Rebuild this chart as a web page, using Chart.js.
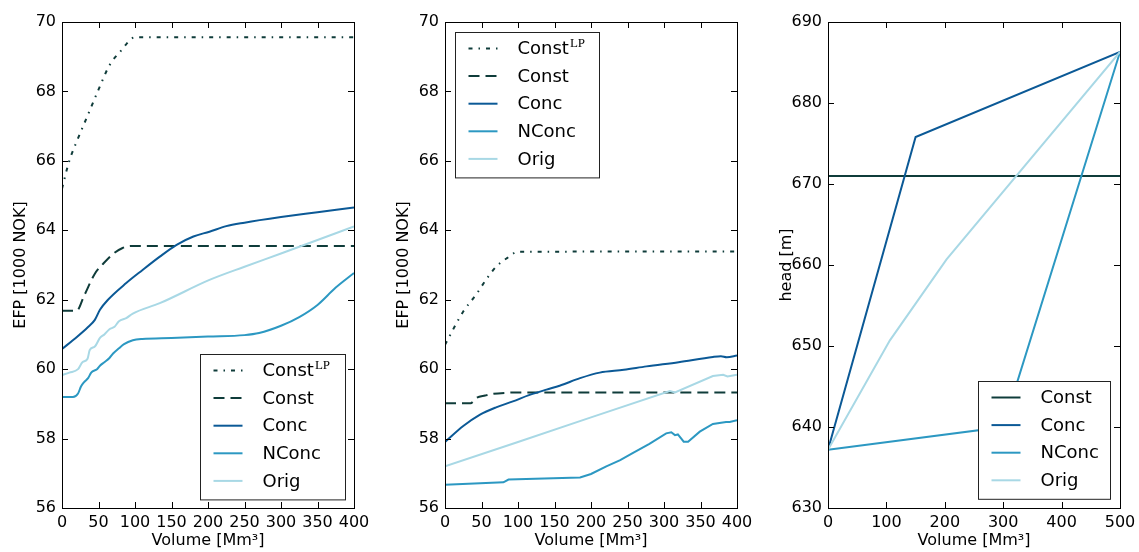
<!DOCTYPE html>
<html>
<head>
<meta charset="utf-8">
<script src="https://cdn.jsdelivr.net/npm/chart.js@4.4.1/dist/chart.umd.min.js"></script>
<style>
  body { margin: 0; background: #fff; overflow: hidden; }
  .panel { position: absolute; top: 0; width: 370px; height: 552px; }
</style>
</head>
<body>
<div class="panel" style="left:0"><canvas id="c1"></canvas></div>
<div class="panel" style="left:383px"><canvas id="c2"></canvas></div>
<div class="panel" style="left:766px"><canvas id="c3"></canvas></div>
<script>
// left panel: EFP vs volume
const constLpX1 = [0, 10, 20, 35, 50, 65, 80, 100, 400];
const constLpY1 = [65.2, 66.0, 66.55, 67.3, 68.05, 68.75, 69.15, 69.56, 69.56];
const constX1 = [0, 20, 30, 45, 57, 70, 83, 95, 400];
const constY1 = [61.68, 61.68, 62.1, 62.75, 63.05, 63.32, 63.49, 63.55, 63.55];
const concX1 = [0, 20, 35, 45, 52, 63, 88, 110, 134, 157, 180, 202, 225, 250, 300, 350, 400];
const concY1 = [60.58, 60.92, 61.2, 61.42, 61.71, 62.0, 62.48, 62.85, 63.24, 63.58, 63.82, 63.96, 64.12, 64.22, 64.38, 64.52, 64.66];
const nconcX1 = [0, 15, 22, 26, 30, 36, 40, 48, 52, 58, 65, 70, 78, 85, 97, 110, 150, 200, 250, 270, 300, 325, 350, 375, 400];
const nconcY1 = [59.2, 59.2, 59.3, 59.5, 59.62, 59.75, 59.9, 60.0, 60.1, 60.2, 60.32, 60.45, 60.6, 60.72, 60.83, 60.87, 60.9, 60.94, 60.98, 61.04, 61.25, 61.5, 61.85, 62.35, 62.77];
const origX1 = [0, 10, 22, 28, 35, 38, 45, 52, 58, 65, 72, 78, 88, 97, 134, 202, 250, 300, 350, 400];
const origY1 = [59.83, 59.9, 60.0, 60.2, 60.3, 60.55, 60.65, 60.9, 61.0, 61.15, 61.22, 61.38, 61.47, 61.6, 61.9, 62.57, 62.95, 63.33, 63.72, 64.11];

// middle panel
const constLpX2 = [0, 10, 25, 43, 57, 70, 85, 100, 400];
const constLpY2 = [60.7, 61.1, 61.66, 62.16, 62.6, 62.95, 63.2, 63.38, 63.39];
const constX2 = [0, 35, 43, 55, 66, 85, 103, 400];
const constY2 = [59.02, 59.02, 59.17, 59.24, 59.29, 59.32, 59.33, 59.33];
const concX2 = [0, 25, 48, 70, 93, 115, 139, 157, 185, 212, 245, 276, 320, 367, 378, 386, 400];
const concY2 = [57.9, 58.36, 58.69, 58.9, 59.07, 59.25, 59.41, 59.52, 59.74, 59.9, 59.98, 60.08, 60.2, 60.35, 60.37, 60.34, 60.39];
const nconcX2 = [0, 80, 87, 185, 200, 221, 240, 257, 280, 303, 310, 315, 319, 327, 333, 349, 367, 385, 390, 400];
const nconcY2 = [56.67, 56.74, 56.82, 56.88, 56.98, 57.2, 57.38, 57.58, 57.85, 58.15, 58.18, 58.1, 58.12, 57.91, 57.91, 58.2, 58.42, 58.48, 58.48, 58.53];
const origX2 = [0, 100, 200, 308, 315, 367, 381, 387, 400];
const origY2 = [57.2, 57.9, 58.61, 59.37, 59.33, 59.8, 59.84, 59.79, 59.84];

// right panel: head vs volume
const constX3 = [0, 500];
const constY3 = [671, 671];
const concX3 = [0, 150, 500];
const concY3 = [637.2, 675.8, 686.3];
const nconcX3 = [0, 300, 500];
const nconcY3 = [637.2, 640.0, 686.3];
const origX3 = [0, 106, 203, 500];
const origY3 = [637.2, 650.7, 660.7, 686.3];

const colConst = '#0f3c3a';
const colConc = '#0b5996';
const colNConc = '#2c98c2';
const colOrig = '#a8d8e5';

const FONT = 'DejaVu Sans';

function pts(xs, ys) {
  return xs.map((x, i) => ({x: x, y: ys[i]}));
}

function line(label, xs, ys, color, dash, idx, smooth) {
  return {
    label: label,
    data: pts(xs, ys),
    borderColor: color,
    backgroundColor: color,
    borderWidth: 2,
    borderDash: dash || [],
    pointRadius: 0,
    fill: false,
    order: -idx,
    cubicInterpolationMode: smooth ? 'monotone' : 'default',
    tension: 0
  };
}

// matplotlib-style box with inward ticks on all four sides
const frameTicks = {
  id: 'frameTicks',
  afterDatasetsDraw(chart) {
    const {ctx, chartArea: a, scales: {x, y}} = chart;
    ctx.save();
    ctx.strokeStyle = '#000';
    ctx.lineWidth = 1;
    ctx.beginPath();
    x.ticks.forEach(t => {
      const px = Math.round(x.getPixelForValue(t.value)) + 0.5;
      ctx.moveTo(px, a.top); ctx.lineTo(px, a.top + 6);
      ctx.moveTo(px, a.bottom); ctx.lineTo(px, a.bottom - 6);
    });
    y.ticks.forEach(t => {
      const py = Math.round(y.getPixelForValue(t.value)) + 0.5;
      ctx.moveTo(a.left, py); ctx.lineTo(a.left + 6, py);
      ctx.moveTo(a.right, py); ctx.lineTo(a.right - 6, py);
    });
    ctx.stroke();
    ctx.strokeRect(Math.round(a.left) + 0.5, Math.round(a.top) + 0.5,
      Math.round(a.right - a.left), Math.round(a.bottom - a.top));
    ctx.restore();
  }
};

// legend box drawn inside the axes
const boxLegend = {
  id: 'boxLegend',
  afterDraw(chart, args, opts) {
    const {ctx, chartArea: a} = chart;
    const sets = chart.data.datasets;
    const rowH = 27.6;
    const h = 35 + (sets.length - 1) * rowH;
    const w = opts.width;
    let left, top;
    if (opts.corner === 'tl') { left = a.left + 10; top = a.top + 10; }
    else { left = a.right - opts.right - w; top = a.bottom - 9 - h; }
    left = Math.round(left) + 0.5; top = Math.round(top) + 0.5;
    ctx.save();
    ctx.fillStyle = '#fff';
    ctx.fillRect(left, top, w, h);
    ctx.strokeStyle = '#222';
    ctx.lineWidth = 1;
    ctx.strokeRect(left, top, w, h);
    sets.forEach((ds, i) => {
      const cy = top + 16 + i * rowH;
      ctx.strokeStyle = ds.borderColor;
      ctx.lineWidth = ds.borderWidth;
      ctx.setLineDash(ds.borderDash);
      ctx.beginPath();
      ctx.moveTo(left + 13, cy);
      ctx.lineTo(left + 42, cy);
      ctx.stroke();
      ctx.setLineDash([]);
      ctx.fillStyle = '#000';
      ctx.textBaseline = 'middle';
      ctx.textAlign = 'left';
      const parts = ds.label.split('^');
      ctx.font = '18px "' + FONT + '"';
      ctx.fillText(parts[0], left + 62, cy + 1);
      if (parts[1]) {
        const tw = ctx.measureText(parts[0]).width;
        ctx.font = '13px "Liberation Serif"';
        ctx.fillText(parts[1], left + 62 + tw + 1, cy - 5);
      }
    });
    ctx.restore();
  }
};

function makeChart(id, datasets, xMax, xStep, yMin, yMax, yStep, yTitle, legendOpts) {
  return new Chart(document.getElementById(id), {
    type: 'line',
    data: {datasets: datasets},
    plugins: [frameTicks, boxLegend],
    options: {
      responsive: true,
      maintainAspectRatio: false,
      animation: false,
      layout: {padding: {left: 0, right: 16, top: 22, bottom: 0}},
      plugins: {
        legend: {display: false},
        tooltip: {enabled: false},
        boxLegend: legendOpts
      },
      scales: {
        x: {
          type: 'linear',
          min: 0,
          max: xMax,
          grid: {display: false, drawTicks: false},
          border: {display: false},
          ticks: {stepSize: xStep, color: '#000', padding: 5, maxRotation: 0, font: {family: FONT, size: 16}},
          title: {display: true, text: 'Volume [Mm³]', color: '#000', padding: {top: 0, bottom: 2}, font: {family: FONT, size: 16}},
          afterFit(s) { s.height = 44; s.paddingLeft = 0; s.paddingRight = 0; }
        },
        y: {
          type: 'linear',
          min: yMin,
          max: yMax,
          grid: {display: false, drawTicks: false},
          border: {display: false},
          ticks: {stepSize: yStep, color: '#000', padding: 6, font: {family: FONT, size: 16}},
          title: {display: true, text: yTitle, color: '#000', padding: {top: 11, bottom: 0}, font: {family: FONT, size: 16}},
          afterFit(s) { s.width = 62; s.paddingTop = 0; s.paddingBottom = 0; }
        }
      }
    }
  });
}

makeChart('c1', [
  line('Const^LP', constLpX1, constLpY1, colConst, [4, 6, 1.5, 6], 0, true),
  line('Const', constX1, constY1, colConst, [11, 6], 1, true),
  line('Conc', concX1, concY1, colConc, null, 2, true),
  line('NConc', nconcX1, nconcY1, colNConc, null, 3, true),
  line('Orig', origX1, origY1, colOrig, null, 4, true)
], 400, 50, 56, 70, 2, 'EFP [1000 NOK]', {corner: 'br', right: 9, width: 145});

makeChart('c2', [
  line('Const^LP', constLpX2, constLpY2, colConst, [4, 6, 1.5, 6], 0, true),
  line('Const', constX2, constY2, colConst, [11, 6], 1, true),
  line('Conc', concX2, concY2, colConc, null, 2, true),
  line('NConc', nconcX2, nconcY2, colNConc, null, 3, false),
  line('Orig', origX2, origY2, colOrig, null, 4, false)
], 400, 50, 56, 70, 2, 'EFP [1000 NOK]', {corner: 'tl', width: 144});

makeChart('c3', [
  line('Const', constX3, constY3, colConst, null, 0, false),
  line('Conc', concX3, concY3, colConc, null, 1, false),
  line('NConc', nconcX3, nconcY3, colNConc, null, 2, false),
  line('Orig', origX3, origY3, colOrig, null, 3, false)
], 500, 100, 630, 690, 10, 'head [m]', {corner: 'br', right: 10, width: 132});
</script>
</body>
</html>
